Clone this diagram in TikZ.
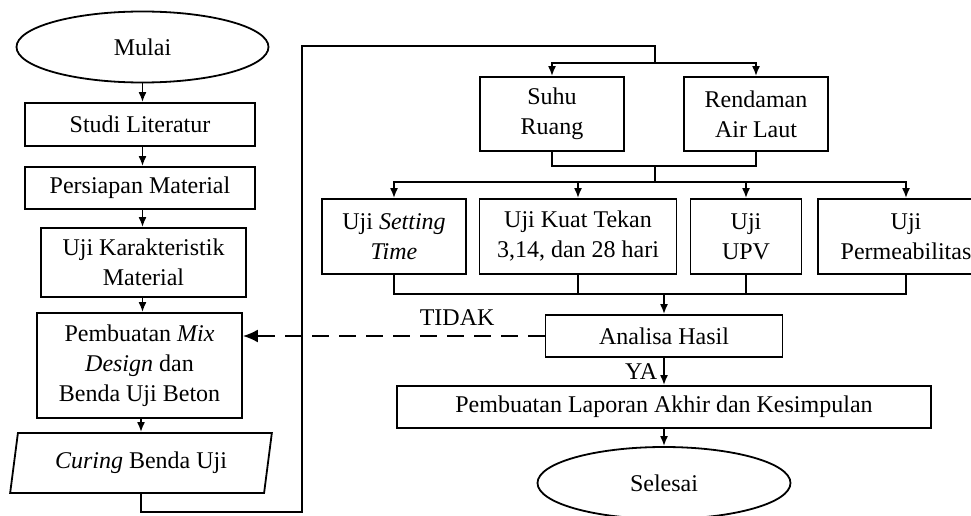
\documentclass[tikz,border=0pt]{standalone}
\usepackage{fontspec}
\setmainfont{Liberation Serif}
\usetikzlibrary{shapes.geometric,arrows.meta}
\begin{document}
\begin{tikzpicture}[x=1pt,y=-1pt,>={Latex[length=10pt,width=8pt]},line width=1.8pt,
  every node/.style={font=\fontsize{24}{30}\selectfont,align=center,inner sep=0pt},
  proc/.style={draw,rectangle},
  term/.style={draw,ellipse,minimum width=252pt,minimum height=71pt},
  io/.style={draw,trapezium,trapezium left angle=76,trapezium right angle=104,
    trapezium stretches=true,minimum width=262pt,minimum height=60pt},
  back/.style={dash pattern=on 17pt off 10pt,-{Latex[length=15pt,width=13pt]}}]
\useasboundingbox (0,0) rectangle (971,516);
\clip (0,0) rectangle (971,516);
% kolom kiri
\node[term] (mulai) at (142.5,47) {Mulai};
\node[proc,minimum width=230pt,minimum height=43pt] (studi) at (140,124.5) {Studi Literatur};
\node[proc,minimum width=230pt,minimum height=42pt] (siap) at (140,188) {Persiapan Material};
\node[proc,minimum width=205pt,minimum height=69pt] (karakter) at (143.5,262.5) {Uji Karakteristik\\Material};
\node[proc,minimum width=205pt,minimum height=105pt] (mix) at (139.5,365.5) {Pembuatan \textit{Mix}\\\textit{Design} dan\\Benda Uji Beton};
\node[io] (curing) at (141,463) {\textit{Curing} Benda Uji};
\draw[->](mulai)--(mulai|-studi.north);
\draw[->](mulai|-studi.south)--(mulai|-siap.north);
\draw[->](mulai|-siap.south)--(mulai|-karakter.north);
\draw[->](mulai|-karakter.south)--(mulai|-mix.north);
\draw[->](curing|-mix.south)--(curing|-curing.north);
% kolom kanan
\node[proc,minimum width=144pt,minimum height=74pt] (suhu) at (552,114) {Suhu\\Ruang};
\node[proc,minimum width=144pt,minimum height=74pt] (rendam) at (756,114) {Rendaman\\Air Laut};
\node[proc,minimum width=144pt,minimum height=75pt] (setting) at (394,236.5) {Uji \textit{Setting}\\\textit{Time}};
\node[proc,minimum width=197pt,minimum height=75pt] (tekan) at (578,236.5) {Uji Kuat Tekan\\3,14, dan 28 hari};
\node[proc,minimum width=111pt,minimum height=75pt] (upv) at (746,236.5) {Uji\\UPV};
\node[proc,minimum width=176pt,minimum height=75pt] (perm) at (906,236.5) {Uji\\Permeabilitas};
\node[proc,minimum width=237pt,minimum height=42pt] (analisa) at (664,336) {Analisa Hasil};
\node[proc,minimum width=534pt,minimum height=42pt] (lapor) at (664,407) {Pembuatan Laporan Akhir dan Kesimpulan};
\node[term,minimum width=253pt,minimum height=72pt] (selesai) at (664,483) {Selesai};
\coordinate (loopbl) at (302,512);
\coordinate (looptl) at (302,46);
\coordinate (splitA) at (655,63);
\coordinate (joinA) at (655,166);
\coordinate (splitB) at (655,182);
\coordinate (joinB) at (664,294);
\draw(curing.south)|-(loopbl)--(looptl)-|(splitA);
\draw[->](splitA)-|(suhu.north);
\draw[->](splitA)-|(rendam.north);
\draw(suhu.south)|-(joinA)-|(rendam.south);
\draw(joinA)--(splitB);
\foreach \t in {setting,tekan,upv,perm}
  \draw[->](splitB)-|(\t.north);
\draw(setting.south)|-(joinB)-|(perm.south);
\draw(tekan.south)--(tekan.south|-joinB);
\draw(upv.south)--(upv.south|-joinB);
\draw[->](joinB)--(analisa.north);
\draw[->](analisa.south)--node[left=6pt]{YA}(analisa.south|-lapor.north);
\draw[->](analisa.south|-lapor.south)--(analisa.south|-selesai.north);
\draw[back](analisa.west)--node[pos=0.29,above=10pt]{TIDAK}(analisa.west-|mix.east);
\end{tikzpicture}
\end{document}
